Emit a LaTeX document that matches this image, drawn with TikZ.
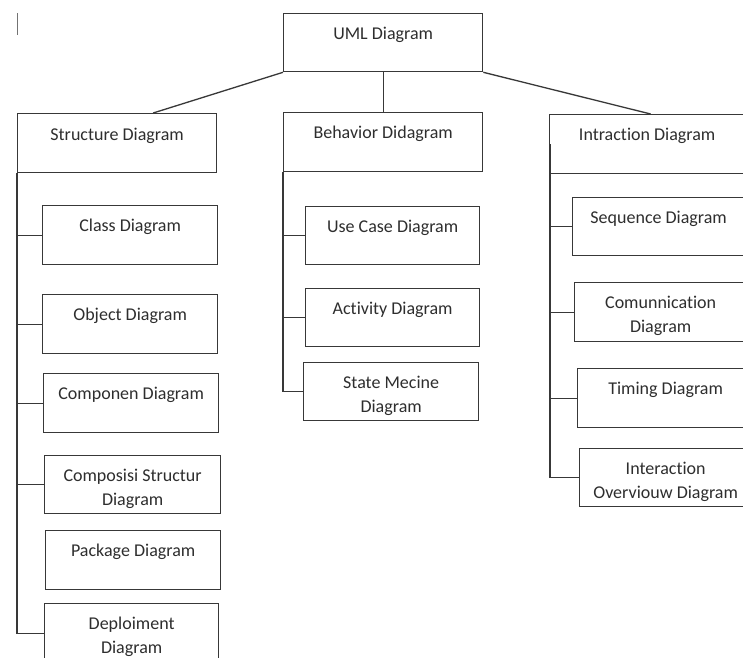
\documentclass[tikz,border=0pt]{standalone}
\usepackage{fontspec}
\setmainfont{Carlito}[Ligatures=NoCommon]
\begin{document}
\begin{tikzpicture}[x=1pt,y=-1pt,
  box/.style={draw=black!78, line width=1.3pt, inner sep=0pt, anchor=north west},
  lbl/.style={anchor=north, yshift=-14pt, font=\fontsize{18}{24}\selectfont, text=black!82, align=center, inner sep=0pt},
  conn/.style={draw=black!78, line width=1.3pt}]
\useasboundingbox (0,0) rectangle (743,657);
\clip (0,0) rectangle (743,657);
\fill[white] (0,0) rectangle (743,657);
% text cursor mark
\draw[black!55, line width=0.8pt] (17,13) -- (17,35);
% top
\node[box, minimum width=199pt, minimum height=58pt, label={[lbl]north:UML Diagram}] (uml) at (283,13) {};
% level 1
\node[box, minimum width=199pt, minimum height=59pt, label={[lbl,yshift=-1pt]north:Structure Diagram}] (str) at (17,113) {};
\node[box, minimum width=199pt, minimum height=59pt, label={[lbl]north:Behavior Didagram}] (beh) at (283,112) {};
\node[box, minimum width=195pt, minimum height=59pt, label={[lbl]north:Intraction Diagram}] (int) at (549,114) {};
% structure children
\node[box, minimum width=175pt, minimum height=59pt, label={[lbl]north:Class Diagram}] (cls) at (42,205) {};
\node[box, minimum width=175pt, minimum height=59pt, label={[lbl]north:Object Diagram}] (obj) at (42,294) {};
\node[box, minimum width=175pt, minimum height=59pt, label={[lbl]north:Componen Diagram}] (cmp) at (43,373) {};
\node[box, minimum width=176pt, minimum height=58pt, label={[lbl]north:Composisi Structur\\Diagram}] (cps) at (44,455) {};
\node[box, minimum width=175pt, minimum height=59pt, label={[lbl]north:Package Diagram}] (pkg) at (45,530) {};
\node[box, minimum width=174pt, minimum height=59pt, label={[lbl]north:Deploiment\\Diagram}] (dep) at (44,603) {};
% behavior children
\node[box, minimum width=174pt, minimum height=58pt, label={[lbl]north:Use Case Diagram}] (use) at (305,206) {};
\node[box, minimum width=174pt, minimum height=58pt, label={[lbl]north:Activity Diagram}] (act) at (305,288) {};
\node[box, minimum width=175pt, minimum height=58pt, label={[lbl]north:State Mecine\\Diagram}] (stm) at (303,362) {};
% interaction children
\node[box, minimum width=172pt, minimum height=58pt, label={[lbl]north:Sequence Diagram}] (seq) at (572,197) {};
\node[box, minimum width=172pt, minimum height=59pt, label={[lbl]north:Comunnication\\Diagram}] (com) at (574,282) {};
\node[box, minimum width=176pt, minimum height=59pt, label={[lbl]north:Timing Diagram}] (tim) at (577,368) {};
\node[box, minimum width=172pt, minimum height=58pt, label={[lbl]north:Interaction\\Overviouw Diagram}] (iov) at (579,448) {};
% top connectors
\draw[conn] (uml.south west) -- ([xshift=36pt]str.north);
\draw[conn] (uml.south) -- (beh.north);
\draw[conn] (uml.south east) -- ([xshift=3.5pt]int.north);
% structure spine
\draw[conn] (str.south west) -- (str.south west |- dep.west) -- (dep.west);
\draw[conn] (str.south west |- cls.west) -- (cls.west);
\draw[conn] (str.south west |- obj.west) -- (obj.west);
\draw[conn] (str.south west |- cmp.west) -- (cmp.west);
\draw[conn] (str.south west |- cps.west) -- (cps.west);
% behavior spine
\draw[conn] (beh.south west) -- (beh.south west |- stm.west) -- (stm.west);
\draw[conn] (beh.south west |- use.west) -- (use.west);
\draw[conn] (beh.south west |- act.west) -- (act.west);
% interaction spine
\draw[conn] ([xshift=1pt]int.west) -- ([xshift=1pt]int.west |- iov.west) -- (iov.west);
\draw[conn] ([xshift=1pt]int.west |- seq.west) -- (seq.west);
\draw[conn] ([xshift=1pt]int.west |- com.west) -- (com.west);
\draw[conn] ([xshift=1pt]int.west |- tim.west) -- (tim.west);
\end{tikzpicture}
\end{document}
